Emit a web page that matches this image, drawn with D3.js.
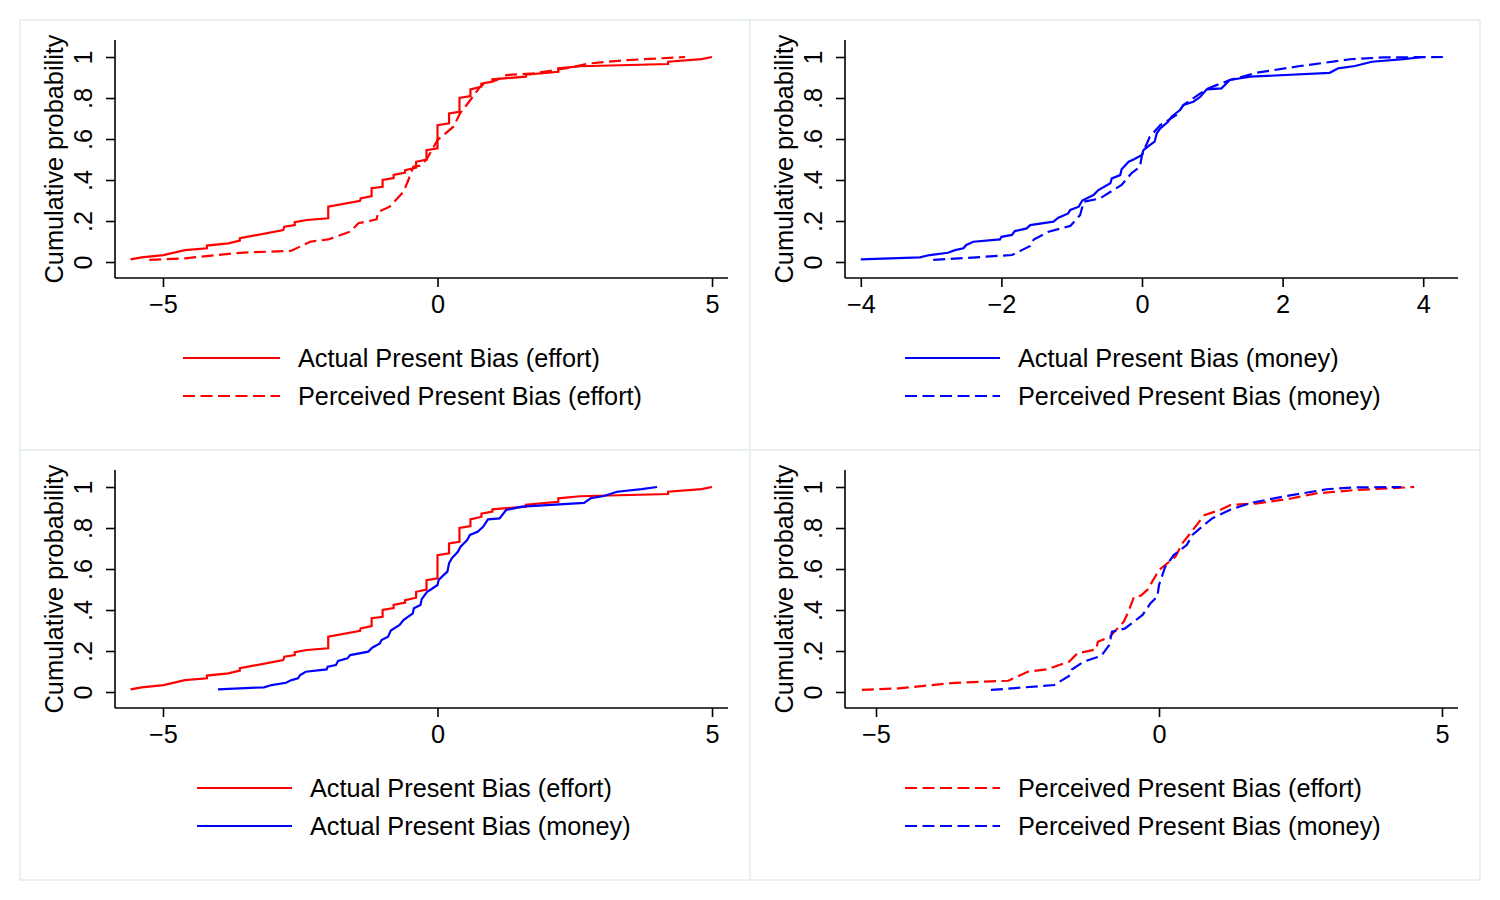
<!DOCTYPE html>
<html>
<head>
<meta charset="utf-8">
<script src="https://cdn.jsdelivr.net/npm/d3@7"></script>
<style>
  body { margin: 0; background: #fff; }
  text { font-family: "Liberation Sans", Arial, Helvetica, sans-serif; }
</style>
</head>
<body>
<script>
const actualEffort = [[-5.59,0.013],[-5.39,0.023],[-4.99,0.034],[-4.60,0.058],[-4.20,0.067],[-4.20,0.080],[-3.81,0.091],[-3.60,0.104],[-3.60,0.116],[-2.81,0.156],[-2.79,0.172],[-2.60,0.18],[-2.60,0.194],[-2.38,0.205],[-1.99,0.213],[-1.99,0.27],[-1.41,0.298],[-1.40,0.31],[-1.20,0.322],[-1.20,0.36],[-1.0,0.367],[-1.0,0.40],[-0.80,0.41],[-0.80,0.425],[-0.59,0.436],[-0.59,0.448],[-0.39,0.46],[-0.39,0.489],[-0.2,0.50],[-0.2,0.546],[0,0.555],[0,0.668],[0.21,0.677],[0.21,0.725],[0.40,0.733],[0.40,0.80],[0.60,0.81],[0.60,0.842],[0.80,0.855],[0.80,0.87],[1.0,0.88],[1.0,0.891],[1.61,0.904],[1.61,0.914],[2.2,0.928],[2.2,0.945],[2.6,0.955],[4.2,0.966],[4.2,0.977],[4.81,0.99],[5.0,1.0]];
const perceivedEffort = [[-5.25,0.01],[-4.6,0.018],[-3.6,0.045],[-2.66,0.055],[-2.32,0.099],[-1.99,0.11],[-1.59,0.148],[-1.44,0.189],[-1.11,0.208],[-1.08,0.245],[-0.87,0.27],[-0.62,0.343],[-0.53,0.40],[-0.44,0.465],[-0.32,0.47],[-0.2,0.50],[0.0,0.595],[0.29,0.66],[0.41,0.725],[0.53,0.766],[0.80,0.863],[1.08,0.888],[1.26,0.912],[1.74,0.92],[2.35,0.945],[2.78,0.969],[3.45,0.985],[4.51,1.0]];
const actualMoney = [[-4.0,0.013],[-3.16,0.023],[-3.02,0.034],[-2.76,0.045],[-2.66,0.058],[-2.54,0.067],[-2.5,0.083],[-2.4,0.099],[-2.02,0.11],[-2.0,0.123],[-1.85,0.132],[-1.81,0.151],[-1.64,0.164],[-1.59,0.18],[-1.26,0.197],[-1.19,0.216],[-1.05,0.237],[-1.02,0.254],[-0.90,0.27],[-0.85,0.30],[-0.69,0.327],[-0.62,0.351],[-0.45,0.384],[-0.43,0.408],[-0.31,0.424],[-0.29,0.452],[-0.19,0.489],[-0.12,0.50],[0.0,0.522],[0.02,0.546],[0.11,0.57],[0.18,0.587],[0.21,0.628],[0.26,0.652],[0.37,0.684],[0.42,0.709],[0.54,0.741],[0.59,0.766],[0.73,0.782],[0.83,0.806],[0.92,0.842],[1.13,0.847],[1.25,0.888],[1.54,0.904],[2.67,0.923],[2.79,0.945],[3.03,0.956],[3.27,0.977],[3.72,0.99],[4.0,1.0]];
const perceivedMoney = [[-2.97,0.01],[-1.85,0.034],[-1.71,0.058],[-1.59,0.078],[-1.54,0.11],[-1.33,0.148],[-1.02,0.176],[-0.88,0.229],[-0.83,0.294],[-0.6,0.31],[-0.29,0.376],[-0.15,0.433],[-0.03,0.465],[0.0,0.522],[0.11,0.611],[0.26,0.668],[0.49,0.717],[0.59,0.766],[0.83,0.823],[0.94,0.847],[1.25,0.888],[1.63,0.923],[2.25,0.956],[2.96,0.989],[3.43,0.998],[4.28,1.0]];

// Tick values and labels
const yTicks = [0, 0.2, 0.4, 0.6, 0.8, 1];
const yTickLabels = ["0", ".2", ".4", ".6", ".8", "1"];
const xTicksWide = [-5, 0, 5];
const xTicksMoney = [-4, -2, 0, 2, 4];

// Series labels
const labelActualEffort = "Actual Present Bias (effort)";
const labelPerceivedEffort = "Perceived Present Bias (effort)";
const labelActualMoney = "Actual Present Bias (money)";
const labelPerceivedMoney = "Perceived Present Bias (money)";

const width = 1500, height = 900;
const fontSize = 25.3;

const svg = d3.select('body').append('svg')
  .attr('width', width)
  .attr('height', height);

// Panel layout (pixel positions of each graph)
const panels = [
  { ox: 0,   oy: 0,   xDomain: [-5.874, 5.291], xTicks: xTicksWide,
    legendLine: [183, 280], legendText: 298,
    series: [
      { data: actualEffort, color: '#ff0000', dash: null, label: labelActualEffort },
      { data: perceivedEffort, color: '#ff0000', dash: '12,5.5', label: labelPerceivedEffort }] },
  { ox: 730, oy: 0,   xDomain: [-4.225, 4.495], xTicks: xTicksMoney,
    legendLine: [905, 1000], legendText: 1018,
    series: [
      { data: actualMoney, color: '#0000ff', dash: null, label: labelActualMoney },
      { data: perceivedMoney, color: '#0000ff', dash: '12,5.5', label: labelPerceivedMoney }] },
  { ox: 0,   oy: 430, xDomain: [-5.874, 5.291], xTicks: xTicksWide,
    legendLine: [197, 292], legendText: 310,
    series: [
      { data: actualEffort, color: '#ff0000', dash: null, label: labelActualEffort },
      { data: actualMoney, color: '#0000ff', dash: null, label: labelActualMoney }] },
  { ox: 730, oy: 430, xDomain: [-5.548, 5.283], xTicks: xTicksWide,
    legendLine: [905, 1000], legendText: 1018,
    series: [
      { data: perceivedEffort, color: '#ff0000', dash: '12,5.5', label: labelPerceivedEffort },
      { data: perceivedMoney, color: '#0000ff', dash: '12,5.5', label: labelPerceivedMoney }] }
];

const fmtMinus = d => d < 0 ? '\u2212' + Math.abs(d) : String(d);

panels.forEach(p => {
  const g = svg.append('g');

  // panel frame
  g.append('rect')
    .attr('x', 20 + p.ox).attr('y', 20 + p.oy)
    .attr('width', 730).attr('height', 430)
    .attr('fill', 'none')
    .attr('stroke', '#e8f0f2')
    .attr('stroke-width', 2);

  const left = 115 + p.ox, right = 728 + p.ox;
  const top = 40 + p.oy, bottom = 278 + p.oy;

  const x = d3.scaleLinear().domain(p.xDomain).range([left, right]);
  const y = d3.scaleLinear().domain([-0.078, 1.083]).range([bottom, top]);

  // y axis
  const yAxis = d3.axisLeft(y).tickValues(yTicks).tickSize(9).tickPadding(0)
    .tickFormat((d, i) => yTickLabels[i]);
  const ga = g.append('g')
    .attr('transform', 'translate(' + left + ',0)')
    .call(yAxis);
  ga.select('.domain').attr('d', 'M0,' + top + 'V' + bottom).attr('stroke-width', 1.6);
  ga.selectAll('.tick line').attr('stroke-width', 1.6);
  ga.selectAll('.tick text')
    .attr('font-size', fontSize)
    .attr('fill', '#000')
    .attr('x', null).attr('dy', null)
    .attr('text-anchor', 'middle')
    .attr('transform', 'translate(-23,0) rotate(-90)');

  // x axis
  const xAxis = d3.axisBottom(x).tickValues(p.xTicks).tickSize(9).tickPadding(0)
    .tickFormat(fmtMinus);
  const gx = g.append('g')
    .attr('transform', 'translate(0,' + bottom + ')')
    .call(xAxis);
  gx.select('.domain').attr('d', 'M' + left + ',0H' + right).attr('stroke-width', 1.6);
  gx.selectAll('.tick line').attr('stroke-width', 1.6);
  gx.selectAll('.tick text')
    .attr('font-size', fontSize)
    .attr('fill', '#000')
    .attr('y', 35).attr('dy', null);

  // y title
  g.append('text')
    .attr('transform', 'translate(' + (63 + p.ox) + ',' + (159 + p.oy) + ') rotate(-90)')
    .attr('text-anchor', 'middle')
    .attr('font-size', fontSize)
    .text('Cumulative probability');

  // lines
  const line = d3.line().x(d => x(d[0])).y(d => y(d[1]));
  p.series.forEach(s => {
    g.append('path')
      .attr('d', line(s.data))
      .attr('fill', 'none')
      .attr('stroke', s.color)
      .attr('stroke-width', 2.2)
      .attr('stroke-dasharray', s.dash);
  });

  // legend
  p.series.forEach((s, i) => {
    const ly = 358 + p.oy + i * 38;
    g.append('line')
      .attr('x1', p.legendLine[0]).attr('x2', p.legendLine[1])
      .attr('y1', ly).attr('y2', ly)
      .attr('stroke', s.color)
      .attr('stroke-width', 2.2)
      .attr('stroke-dasharray', s.dash);
    g.append('text')
      .attr('x', p.legendText)
      .attr('y', ly + 9)
      .attr('font-size', fontSize)
      .text(s.label);
  });
});
</script>
</body>
</html>
